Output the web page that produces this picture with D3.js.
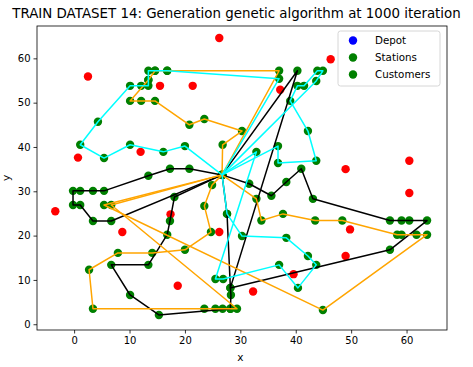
<!DOCTYPE html>
<html>
<head>
<meta charset="utf-8">
<script src="https://cdn.jsdelivr.net/npm/d3@7"></script>
<style>
  body { margin: 0; background: #fff; }
  text { font-family: "DejaVu Sans", sans-serif; fill: #000; }
</style>
</head>
<body>
<svg width="473" height="367"></svg>
<script>
const width = 473;
const height = 367;

// depot (hidden under the hub in the picture)
const depot = [26.7, 33.7];

// red points not on any route
const redPoints = [
  [26.2, 64.6], [2.5, 55.9], [15.5, 53.8], [21.4, 53.8], [0.7, 37.6], [12.0, 38.9],
  [46.3, 59.8], [37.2, 52.9], [60.5, 36.9], [49.0, 35.0], [60.5, 29.6], [49.8, 21.4],
  [49.0, 15.4], [-3.4, 25.5], [8.7, 20.8], [17.4, 24.8], [18.7, 8.7], [26.2, 20.8],
  [32.3, 7.4], [39.6, 11.3]
];

// routes, each starts and ends at the depot
const cyanA = [depot, [20.0,40.2],[16.1,38.9],[10.1,40.5],[5.4,37.5],[1.1,40.5],[4.3,45.7],[10.1,53.8],
  [12.1,53.8],[13.4,53.8],[13.4,55.1],[13.4,57.2],[14.6,57.2],[16.8,57.2],[37.0,55.4], depot];
const cyanB = [depot, [43.7,54.9],[44.9,57.2],[43.9,57.2],[41.5,53.8],[40.3,53.8],[39.0,50.4],[42.2,43.6],
  [43.7,36.9],[36.8,36.4],[36.8,40.2], depot];
const cyanC = [depot, [27.6,24.9],[30.3,19.9],[38.3,19.5],[42.2,15.4],[43.7,13.4],[40.4,8.2],[37.0,13.4],
  [26.9,10.2],[25.5,10.2],[32.9,38.9], depot];

const orange1 = [depot, [26.8,40.5],[30.3,43.6],[23.5,46.3],[20.8,45.0],[14.6,50.4],[12.1,50.4],[10.1,50.4],
  [13.4,55.1],[14.6,57.2],[16.8,57.2],[37.0,57.2], depot];
const orange2 = [depot, [5.4,26.9],[44.9,3.2],[63.7,20.2],[61.8,20.2],[59.1,20.2],[58.3,20.2],[48.4,23.4],
  [43.5,23.4],[37.7,24.9],[33.8,23.4],[32.9,28.3], depot];
const orange3 = [depot, [6.7,26.9],[29.4,3.5],[28.2,3.5],[26.8,3.5],[25.5,3.5],[23.5,3.5],[3.4,3.5],[2.7,12.3],
  [7.9,16.1],[14.1,16.1],[20.0,16.8],[24.7,20.8],[23.5,26.7],[24.9,31.4], depot];

const black1 = [depot, [20.8,35.1],[17.3,35.1],[13.4,33.5],[5.4,30.1],[3.4,30.1],[1.1,30.1],[-0.2,30.1],
  [-0.2,26.9],[1.1,26.9],[3.4,23.3],[6.7,23.3], depot];
const black2 = [depot, [18.1,28.7],[17.3,23.3],[16.8,20.2],[13.4,13.4],[6.7,13.4],[10.1,6.6],[15.3,2.1],
  [28.2,3.5],[28.3,6.6],[28.2,8.2],[57.0,16.8],[63.7,23.4],[60.5,23.4],[59.1,23.4],[57.0,23.4],[43.1,28.3],
  [41.0,35.1],[38.3,32.1],[35.6,29.0],[31.6,31.7], depot];
const black3 = [depot, [27.6,24.9],[28.2,8.2],[40.3,57.2], depot];

const routes = [
  {pts: black1, color: "black"}, {pts: black2, color: "black"}, {pts: black3, color: "black"},
  {pts: orange1, color: "orange"}, {pts: orange2, color: "orange"}, {pts: orange3, color: "orange"},
  {pts: cyanA, color: "cyan"}, {pts: cyanB, color: "cyan"}, {pts: cyanC, color: "cyan"}
];

const xTicks = [0, 10, 20, 30, 40, 50, 60];
const yTicks = [0, 10, 20, 30, 40, 50, 60];
const legendItems = [
  {label: "Depot", color: "#0000ff"},
  {label: "Stations", color: "#008000"},
  {label: "Customers", color: "#008000"}
];

const margin = {left: 37, right: 26, top: 26, bottom: 37};

const svg = d3.select("svg");

const x = d3.scaleLinear().domain([-6.7, 67.3]).range([margin.left, width - margin.right]);
const y = d3.scaleLinear().domain([-1.3, 67.3]).range([height - margin.bottom, margin.top]);

// title
svg.append("text")
  .attr("x", 236.5)
  .attr("y", 18)
  .attr("text-anchor", "middle")
  .style("font-size", "13.4px")
  .text("TRAIN DATASET 14: Generation genetic algorithm at 1000 iteration");

// axes
const xAxis = svg.append("g")
  .attr("transform", `translate(0,${height - margin.bottom})`)
  .call(d3.axisBottom(x).tickValues(xTicks).tickSize(3.5).tickPadding(3));
const yAxis = svg.append("g")
  .attr("transform", `translate(${margin.left},0)`)
  .call(d3.axisLeft(y).tickValues(yTicks).tickSize(3.5).tickPadding(3));
[xAxis, yAxis].forEach(g => {
  g.select(".domain").remove();
  g.selectAll("text").style("font-size", "10px").style("font-family", "DejaVu Sans").attr("fill", "#000");
  g.selectAll("line").attr("stroke", "#000").attr("stroke-width", 0.8);
});

svg.append("text")
  .attr("x", x(30))
  .attr("y", 361)
  .attr("text-anchor", "middle")
  .style("font-size", "10.5px")
  .text("x");
svg.append("text")
  .attr("transform", `translate(10,${y(33)}) rotate(-90)`)
  .attr("text-anchor", "middle")
  .style("font-size", "10.5px")
  .text("y");

const plot = svg.append("g");

// depot under everything else
plot.append("circle")
  .attr("cx", x(depot[0])).attr("cy", y(depot[1]))
  .attr("r", 4.2).attr("fill", "#0000ff");

plot.selectAll(".red")
  .data(redPoints)
  .enter().append("circle")
  .attr("class", "red")
  .attr("cx", d => x(d[0]))
  .attr("cy", d => y(d[1]))
  .attr("r", 4.2)
  .attr("fill", "#ff0000");

const greenPts = [];
routes.forEach(r => r.pts.forEach(p => greenPts.push(p)));

plot.selectAll(".stop")
  .data(greenPts)
  .enter().append("circle")
  .attr("class", "stop")
  .attr("cx", d => x(d[0]))
  .attr("cy", d => y(d[1]))
  .attr("r", 4.2)
  .attr("fill", "#008000");

const line = d3.line().x(d => x(d[0])).y(d => y(d[1]));

plot.selectAll(".route")
  .data(routes)
  .enter().append("path")
  .attr("class", "route")
  .attr("d", d => line(d.pts))
  .attr("fill", "none")
  .attr("stroke", d => d.color)
  .attr("stroke-width", 1.5)
  .attr("stroke-linejoin", "round");

// frame
svg.append("rect")
  .attr("x", margin.left).attr("y", margin.top)
  .attr("width", width - margin.left - margin.right)
  .attr("height", height - margin.top - margin.bottom)
  .attr("fill", "none")
  .attr("stroke", "#000")
  .attr("stroke-width", 0.8);

// legend
const legend = svg.append("g").attr("transform", "translate(338,31)");
legend.append("rect")
  .attr("width", 102).attr("height", 55)
  .attr("rx", 2.5)
  .attr("fill", "#fff").attr("fill-opacity", 0.8)
  .attr("stroke", "#ccc").attr("stroke-width", 0.8);
legendItems.forEach((d, i) => {
  legend.append("circle")
    .attr("cx", 15).attr("cy", 9.5 + i * 17)
    .attr("r", 4.2).attr("fill", d.color);
  legend.append("text")
    .attr("x", 37).attr("y", 13 + i * 17)
    .style("font-size", "10.3px")
    .text(d.label);
});
</script>
</body>
</html>
